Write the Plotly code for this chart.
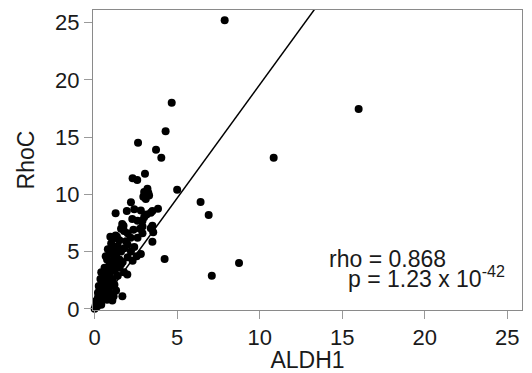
import plotly.graph_objects as go

# ALDH1 (x) and RhoC (y) expression values
aldh1 = [7.88, 16.0, 10.85, 6.42, 6.91, 8.75, 7.1, 4.67, 4.3, 3.72, 4.04, 2.63, 3.05, 2.3, 2.58, 5.0, 4.24,
         3.0, 3.2, 3.3, 3.1, 3.25, 2.95,
         2.2, 1.27, 1.95, 2.4, 2.8, 3.15, 3.4, 3.84, 3.5, 2.28, 2.6, 2.9, 3.0, 1.75, 2.9, 3.5, 3.4, 2.75, 3.55,
         3.5, 1.27, 1.78, 2.18, 2.6, 2.9, 2.0, 1.5, 2.35, 1.6, 1.67,
         0.67, 0.97, 2.55, 2.8, 1.2, 1.4, 1.6, 1.8, 2.0, 1.3, 1.5, 1.7, 1.1, 0.9, 1.3, 2.0, 2.2, 1.0, 0.8,
         1.98, 1.78, 0.56, 0.47, 0.8, 1.0, 1.2, 1.5, 0.7, 0.9, 1.1, 1.4, 0.6, 0.4, 2.3, 2.4, 1.9, 1.1, 1.2,
         0.75, 1.6, 1.35, 0.95,
         0.06, 0.0, 0.16, 0.25, 0.3, 0.35, 0.4, 0.5, 0.45, 0.6, 0.55, 0.7, 0.8, 0.97, 1.07, 1.15, 1.68, 0.2,
         0.3, 0.15, 0.25, 0.35, 0.5, 0.65, 0.85, 1.0, 0.75, 0.1, 0.4, 1.3, 0.2, 0.55, 0.9, 1.2]
rhoc = [25.2, 17.45, 13.2, 9.33, 8.2, 4.0, 2.9, 18.0, 15.5, 13.9, 13.2, 14.5, 11.8, 11.4, 11.25, 10.4, 4.35,
        10.2, 10.5, 9.9, 9.6, 10.15, 9.8,
        9.3, 8.35, 8.55, 8.7, 8.6, 8.25, 8.4, 8.75, 8.55, 7.85, 7.7, 7.7, 8.0, 7.25, 7.2, 7.25, 7.05, 7.0, 6.7,
        5.85, 6.4, 6.8, 6.2, 6.2, 6.6, 6.6, 6.0, 6.9, 7.0, 7.4,
        4.6, 4.8, 4.6, 4.8, 5.2, 5.5, 5.0, 5.3, 5.6, 4.6, 4.3, 4.1, 4.2, 3.9, 3.8, 4.5, 5.0, 5.7, 5.2,
        3.0, 3.2, 3.0, 2.46, 3.4, 3.5, 3.3, 3.6, 2.8, 2.9, 2.6, 2.9, 3.6, 3.2, 4.2, 5.4, 5.9, 6.1, 4.9,
        4.3, 3.9, 6.3, 6.3,
        0.3, 0.0, 0.43, 0.8, 1.2, 0.6, 1.5, 1.8, 2.1, 2.2, 1.4, 1.9, 2.3, 1.3, 0.72, 1.1, 1.1, 1.0,
        1.7, 0.2, 2.0, 2.6, 2.6, 1.0, 1.6, 2.0, 0.8, 0.7, 0.35, 1.6, 1.4, 0.9, 2.5, 2.1]

# regression line parameters
fit_slope = 1.98
fit_intercept = -0.23
fit_x = [0.12, 14.0]
fit_y = [fit_slope * v + fit_intercept for v in fit_x]

tick_vals = [0, 5, 10, 15, 20, 25]
stat_lines = ["rho = 0.868", "p = 1.23 x 10<sup>-42</sup>"]

font_family = "Liberation Sans, Arial, sans-serif"
text_color = "#1a1a1a"

# the page body adds an 8 px offset; the figure is sized so the plot box lands at 93..522 x 10..310
OFF = 8
W, H = 532 - OFF, 373 - OFF
L, R, T, B = 93 - OFF, 10, 10 - OFF, 63
pw, ph = W - L - R, H - T - B

fig = go.Figure()
fig.add_trace(go.Scatter(x=aldh1, y=rhoc, mode="markers",
                         marker=dict(color="black", size=8), showlegend=False,
                         cliponaxis=False))
fig.add_trace(go.Scatter(x=fit_x, y=fit_y, mode="lines",
                         line=dict(color="black", width=1.5), showlegend=False))

axis_common = dict(showgrid=False, zeroline=False, showline=True, mirror=True,
                   linecolor="#8a8a8a", linewidth=1, ticks="outside", ticklen=8,
                   tickcolor="#9a9a9a", tickvals=tick_vals, automargin=False,
                   tickfont=dict(size=22, color=text_color, family=font_family))

fig.update_xaxes(range=[-0.1, 25.9],
                 title=dict(text="ALDH1", font=dict(size=23, color=text_color), standoff=6),
                 **axis_common)
fig.update_yaxes(range=[-0.1, 26.1],
                 title=dict(text="RhoC", font=dict(size=23, color=text_color), standoff=14),
                 **axis_common)

fig.add_annotation(xref="paper", yref="paper", x=(327 - 93) / pw, y=(310 - 259) / ph,
                   text=stat_lines[0], showarrow=False, xanchor="left", yanchor="middle",
                   font=dict(size=23, color=text_color, family=font_family))
fig.add_annotation(xref="paper", yref="paper", x=(346 - 93) / pw, y=(310 - 277) / ph,
                   text=stat_lines[1], showarrow=False, xanchor="left", yanchor="middle",
                   font=dict(size=23, color=text_color, family=font_family))

fig.update_layout(width=W, height=H, margin=dict(l=L, r=R, t=T, b=B, autoexpand=False),
                  paper_bgcolor="white", plot_bgcolor="white",
                  font=dict(family=font_family, color=text_color))

fig.write_html("out.html")
